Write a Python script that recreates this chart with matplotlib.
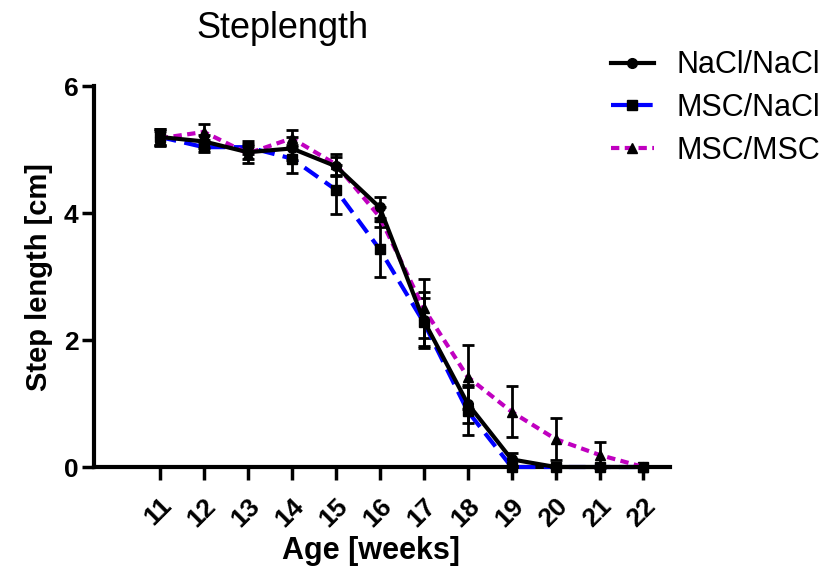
import matplotlib
matplotlib.use("Agg")
import matplotlib.pyplot as plt
from matplotlib.lines import Line2D

plt.rcParams["font.family"] = ["Liberation Sans", "DejaVu Sans"]

weeks = [11, 12, 13, 14, 15, 16, 17, 18, 19, 20, 21, 22]

nacl_nacl = [5.20, 5.13, 4.96, 5.02, 4.74, 4.09, 2.31, 1.00, 0.12, 0.0, 0.0, 0.0]
nacl_nacl_err = [0.12, 0.10, 0.10, 0.18, 0.15, 0.16, 0.44, 0.30, 0.10, 0.0, 0.0, 0.0]

msc_nacl = [5.20, 5.04, 5.04, 4.86, 4.37, 3.43, 2.28, 0.88, 0.0, 0.0, 0.0, 0.0]
msc_nacl_err = [0.12, 0.08, 0.10, 0.22, 0.39, 0.44, 0.38, 0.38, 0.0, 0.0, 0.0, 0.0]

msc_msc = [5.18, 5.28, 4.94, 5.18, 4.77, 3.94, 2.50, 1.42, 0.87, 0.44, 0.19, 0.0]
msc_msc_err = [0.12, 0.13, 0.15, 0.13, 0.17, 0.16, 0.47, 0.50, 0.40, 0.33, 0.20, 0.0]

labels = ["NaCl/NaCl", "MSC/NaCl", "MSC/MSC"]
colors = ["black", "#0000ff", "#c000c0"]
styles = ["-", (0, (4, 2)), (0, (2, 1.3))]
markers = ["o", "s", "^"]

fig = plt.figure(figsize=(8.37, 5.7), dpi=100)
ax = fig.add_axes([0.1123, 0.1807, 0.688, 0.668])

err_kw = dict(ecolor="black", elinewidth=2, capsize=4.5, capthick=2,
              markersize=7, markerfacecolor="black", markeredgecolor="black",
              lw=3, clip_on=False)

series = [(nacl_nacl, nacl_nacl_err), (msc_nacl, msc_nacl_err), (msc_msc, msc_msc_err)]
zorders = [4, 3, 3]
for (vals, errs), lab, c, ls, m, z in zip(series, labels, colors, styles, markers, zorders):
    ax.errorbar(weeks, vals, yerr=errs, color=c, ls=ls, marker=m, zorder=z, **err_kw)

ax.set_xlim(9.5, 22.6)
ax.set_ylim(0, 6)
ax.set_yticks([0, 2, 4, 6])
ax.set_xticks(weeks)
ax.set_xticklabels([str(w) for w in weeks], rotation=45, ha="right",
                   rotation_mode="anchor", fontsize=19, fontweight="bold")
for lab in ax.get_yticklabels():
    lab.set_fontsize(19)
    lab.set_fontweight("bold")

for s in ["top", "right"]:
    ax.spines[s].set_visible(False)
for s in ["left", "bottom"]:
    ax.spines[s].set_linewidth(3)
ax.tick_params(axis="both", width=2.5, length=9, direction="out")
ax.tick_params(axis="y", pad=2)
ax.tick_params(axis="x", pad=10)

ax.set_ylabel("Step length [cm]", fontsize=21, fontweight="bold", labelpad=8)
ax.set_xlabel("Age [weeks]", fontsize=22, fontweight="bold")
ax.xaxis.set_label_coords(0.481, -0.18)

fig.text(0.338, 1 - 38 / 570, "Steplength", fontsize=26, ha="center", va="baseline")

handles = [Line2D([], [], color=c, ls=ls, lw=3, marker=m, markersize=7,
                  markerfacecolor="black", markeredgecolor="black")
           for c, ls, m in zip(colors, styles, markers)]
fig.legend(handles, labels, loc="upper left", bbox_to_anchor=(0.697, 0.96),
           frameon=False, fontsize=22, handlelength=1.4, handletextpad=0.75,
           labelspacing=0.42)

plt.savefig("out.png", dpi=100)
